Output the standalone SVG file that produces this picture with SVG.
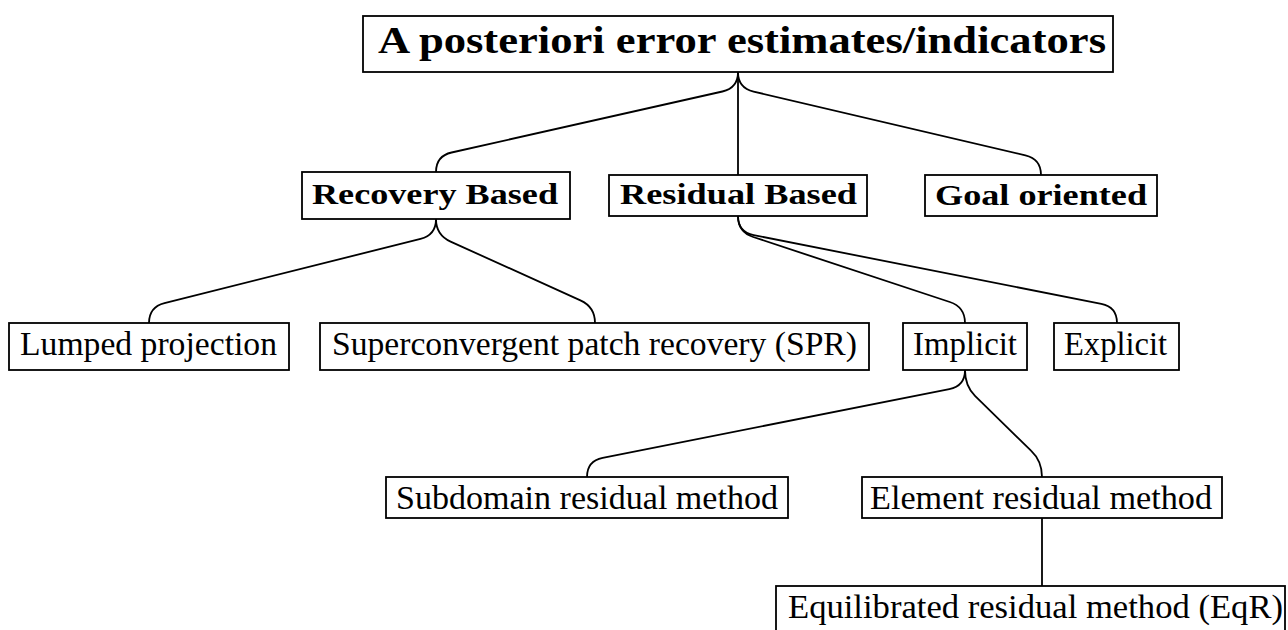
<svg xmlns="http://www.w3.org/2000/svg" width="1288" height="630" viewBox="0 0 1288 630">
<style>
.box{fill:#fff;stroke:#000;stroke-width:1.8}
.t{font-family:"Liberation Serif","Times New Roman",serif;font-size:33px;fill:#000}
.b{font-family:"Liberation Serif","Times New Roman",serif;font-weight:bold;font-size:30px;fill:#000}
.bt{font-size:37px}
.e{fill:none;stroke:#000;stroke-width:1.8}
</style>
<rect width="1288" height="630" fill="#fff"/>
<g id="connectors">
<path class="e" d="M738,72 Q738,88 722.4,91.5 L451.6,152.5 Q436,156 436,172"/>
<path class="e" d="M738,72 V175"/>
<path class="e" d="M738,72 Q738,88 753.6,91.6 L1025.4,155.4 Q1041,159 1041,175"/>
<path class="e" d="M436,219 Q436,235 420.5,238.9 L164.5,303.1 Q149,307 149,323"/>
<path class="e" d="M436,219 Q436,235 450.6,241.6 L580.4,300.4 Q595,307 595,323"/>
<path class="e" d="M738,216 Q738,232 753.2,237 L949.8,302 Q965,307 965,323"/>
<path class="e" d="M738,216 Q738,232 753.7,235.1 L1101.3,303.9 Q1117,307 1117,323"/>
<path class="e" d="M965,370 Q965,386 949.3,389.1 L602.7,457.9 Q587,461 587,477"/>
<path class="e" d="M965,370 Q965,386 975,395.8 L1031,450.7 Q1042,461 1042,477"/>
<path class="e" d="M1042,518 V586"/>
</g>
<g id="root">
<rect class="box" x="363" y="16" width="750" height="56"/>
<text class="b bt" x="378" y="53" textLength="728" lengthAdjust="spacingAndGlyphs">A posteriori error estimates/indicators</text>
</g>
<g id="recovery">
<rect class="box" x="302" y="172" width="268" height="47"/>
<text class="b" x="312" y="204" textLength="246" lengthAdjust="spacingAndGlyphs">Recovery Based</text>
</g>
<g id="residual">
<rect class="box" x="609" y="175" width="258" height="41"/>
<text class="b" x="620" y="204" textLength="237" lengthAdjust="spacingAndGlyphs">Residual Based</text>
</g>
<g id="goal">
<rect class="box" x="925" y="175" width="232" height="41"/>
<text class="b" x="935" y="205" textLength="212" lengthAdjust="spacingAndGlyphs">Goal oriented</text>
</g>
<g id="lumped">
<rect class="box" x="9" y="323" width="280" height="47"/>
<text class="t" x="20" y="355" textLength="257" lengthAdjust="spacingAndGlyphs">Lumped projection</text>
</g>
<g id="spr">
<rect class="box" x="320" y="323" width="549" height="47"/>
<text class="t" x="332" y="355" textLength="525" lengthAdjust="spacingAndGlyphs">Superconvergent patch recovery (SPR)</text>
</g>
<g id="implicit">
<rect class="box" x="903" y="323" width="124" height="47"/>
<text class="t" x="913" y="355" textLength="104" lengthAdjust="spacingAndGlyphs">Implicit</text>
</g>
<g id="explicit">
<rect class="box" x="1054" y="323" width="125" height="47"/>
<text class="t" x="1064" y="355" textLength="103" lengthAdjust="spacingAndGlyphs">Explicit</text>
</g>
<g id="subdomain">
<rect class="box" x="386" y="477" width="402" height="41"/>
<text class="t" x="396" y="509" textLength="382" lengthAdjust="spacingAndGlyphs">Subdomain residual method</text>
</g>
<g id="element">
<rect class="box" x="862" y="477" width="360" height="41"/>
<text class="t" x="870" y="509" textLength="342" lengthAdjust="spacingAndGlyphs">Element residual method</text>
</g>
<g id="equilibrated">
<rect class="box" x="776" y="586" width="509" height="60"/>
<text class="t" x="788" y="618" textLength="495" lengthAdjust="spacingAndGlyphs">Equilibrated residual method (EqR)</text>
</g>
</svg>
